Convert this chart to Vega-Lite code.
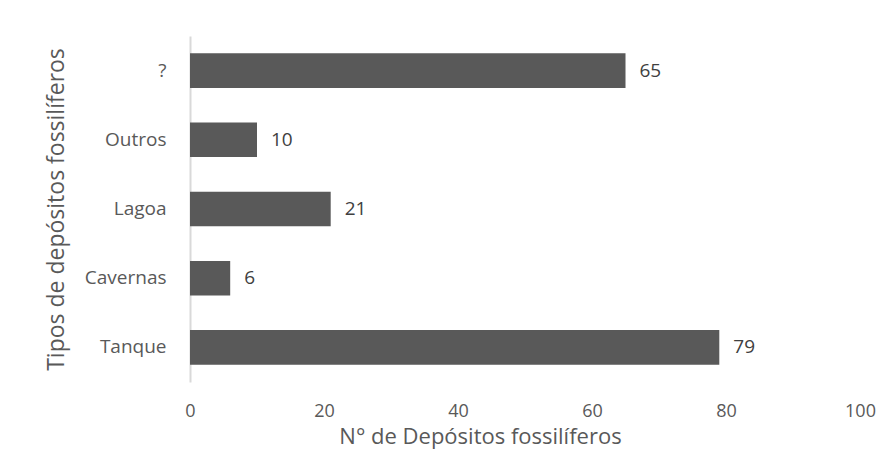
{
  "$schema": "https://vega.github.io/schema/vega-lite/v6.json",
  "autosize": {"type": "none"},
  "padding": {"left": 190, "top": 36, "right": 20, "bottom": 68},
  "width": 670,
  "height": 346,
  "background": "white",
  "config": {
    "view": {"stroke": null},
    "font": "Open Sans"
  },
  "data": {
    "values": [
      {"tipo": "?", "n": 65},
      {"tipo": "Outros", "n": 10},
      {"tipo": "Lagoa", "n": 21},
      {"tipo": "Cavernas", "n": 6},
      {"tipo": "Tanque", "n": 79}
    ]
  },
  "encoding": {
    "y": {
      "field": "tipo",
      "type": "nominal",
      "sort": ["?", "Outros", "Lagoa", "Cavernas", "Tanque"],
      "scale": {"paddingInner": 0.5, "paddingOuter": 0.25},
      "axis": {
        "title": "Tipos de depósitos fossilíferos",
        "titleFontSize": 23,
        "titleFontWeight": "normal",
        "titleColor": "#595959",
        "titlePadding": 16,
        "labelFontSize": 19,
        "labelColor": "#595959",
        "labelPadding": 24,
        "ticks": false,
        "domainColor": "#d9d9d9",
        "domainWidth": 2
      }
    },
    "x": {
      "field": "n",
      "type": "quantitative",
      "scale": {"domain": [0, 100]},
      "axis": {
        "title": "N° de Depósitos fossilíferos",
        "titleFontSize": 22,
        "titleFontWeight": "normal",
        "titleColor": "#595959",
        "titleX": 290,
        "titlePadding": 6,
        "labelFontSize": 18,
        "labelColor": "#595959",
        "labelPadding": 20,
        "labelFlush": false,
        "values": [0, 20, 40, 60, 80, 100],
        "ticks": false,
        "domain": false,
        "grid": false
      }
    }
  },
  "layer": [
    {"mark": {"type": "bar", "color": "#595959"}},
    {
      "mark": {"type": "text", "align": "left", "dx": 14, "fontSize": 19, "color": "#404040"},
      "encoding": {"text": {"field": "n", "type": "quantitative"}}
    }
  ]
}
